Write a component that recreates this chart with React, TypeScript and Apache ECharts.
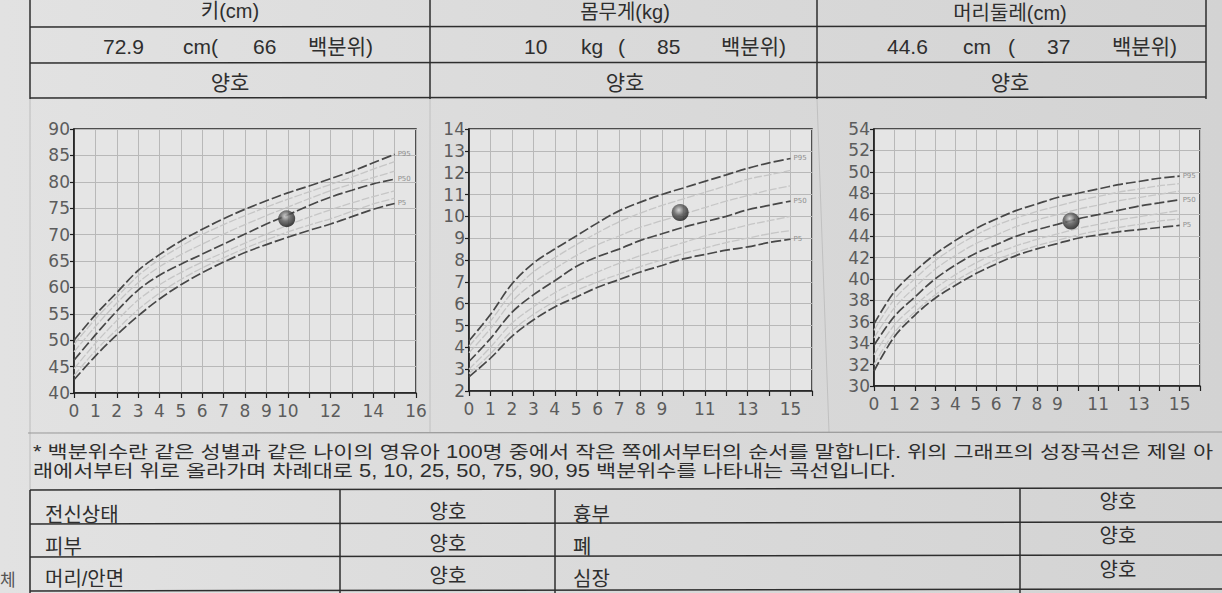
import React, { useEffect, useRef } from "react";
import * as echarts from "echarts";

// ---------- data ----------
const ages = [0, 1, 2, 3, 4, 5, 6, 7, 8, 9, 10, 11, 12, 13, 14, 15];
const percentileNames = ["P5", "P10", "P25", "P50", "P75", "P90", "P95"];

const heightP5 = [42.5, 47, 51, 54.6, 57.8, 60.5, 62.8, 64.8, 66.6, 68.1, 69.5, 70.8, 72, 73.4, 74.8, 75.9];
const heightP10 = [43.3, 48, 52, 55.8, 58.9, 61.5, 63.7, 65.6, 67.4, 69, 70.5, 71.8, 73, 74.4, 75.8, 76.9];
const heightP25 = [44.6, 49.4, 53.7, 57.6, 60.5, 62.8, 64.8, 66.6, 68.4, 70.1, 71.8, 73.3, 74.7, 76, 77.2, 78.3];
const heightP50 = [46.2, 51, 55.5, 59.5, 62.3, 64.4, 66.3, 68.2, 70.1, 72, 73.7, 75.5, 77.1, 78.4, 79.6, 80.5];
const heightP75 = [47.8, 52.6, 57, 60.9, 63.9, 66.2, 68.2, 70.1, 71.9, 73.6, 75.2, 76.8, 78.3, 79.6, 80.8, 82];
const heightP90 = [49.2, 54, 58.2, 62.2, 65.3, 67.8, 70, 71.9, 73.6, 75.2, 76.7, 78.1, 79.5, 80.9, 82.4, 83.8];
const heightP95 = [50, 54.8, 59, 63.2, 66.2, 68.8, 71, 73, 74.8, 76.4, 77.9, 79.2, 80.6, 82, 83.6, 85.2];

const weightP5 = [2.65, 3.5, 4.5, 5.25, 5.85, 6.3, 6.75, 7.1, 7.45, 7.75, 8.05, 8.25, 8.45, 8.6, 8.8, 8.95];
const weightP10 = [2.8, 3.7, 4.75, 5.5, 6.1, 6.6, 7.0, 7.35, 7.7, 8.0, 8.3, 8.55, 8.8, 9.0, 9.2, 9.35];
const weightP25 = [3.0, 4.0, 5.1, 5.85, 6.5, 7.0, 7.45, 7.85, 8.2, 8.5, 8.8, 9.1, 9.35, 9.6, 9.8, 10.0];
const weightP50 = [3.35, 4.4, 5.6, 6.4, 7.05, 7.7, 8.15, 8.5, 8.9, 9.2, 9.5, 9.75, 10.0, 10.3, 10.5, 10.7];
const weightP75 = [3.75, 4.85, 6.1, 6.95, 7.6, 8.2, 8.7, 9.1, 9.5, 9.8, 10.1, 10.4, 10.7, 10.95, 11.2, 11.4];
const weightP90 = [4.05, 5.2, 6.5, 7.45, 8.1, 8.7, 9.25, 9.75, 10.15, 10.5, 10.8, 11.1, 11.4, 11.7, 11.9, 12.1];
const weightP95 = [4.3, 5.5, 6.9, 7.85, 8.5, 9.1, 9.7, 10.25, 10.65, 11.0, 11.3, 11.6, 11.9, 12.2, 12.45, 12.65];

const headP5 = [31.4, 34.6, 36.6, 38.2, 39.4, 40.5, 41.4, 42.2, 42.8, 43.3, 43.8, 44.1, 44.4, 44.6, 44.8, 45.0];
const headP10 = [32.0, 35.0, 36.9, 38.5, 39.8, 40.9, 41.8, 42.5, 43.1, 43.6, 44.1, 44.5, 44.8, 45.1, 45.4, 45.6];
const headP25 = [32.9, 35.7, 37.5, 39.1, 40.4, 41.5, 42.4, 43.1, 43.7, 44.2, 44.7, 45.1, 45.5, 45.8, 46.1, 46.4];
const headP50 = [33.8, 36.5, 38.3, 40.0, 41.3, 42.4, 43.2, 44.0, 44.6, 45.1, 45.6, 46.0, 46.4, 46.8, 47.1, 47.4];
const headP75 = [34.5, 37.3, 39.2, 40.9, 42.2, 43.3, 44.1, 44.9, 45.5, 46.0, 46.5, 46.9, 47.3, 47.6, 47.9, 48.2];
const headP90 = [35.2, 38.1, 40.0, 41.7, 43.0, 44.1, 45.0, 45.7, 46.3, 46.8, 47.3, 47.7, 48.1, 48.4, 48.7, 48.9];
const headP95 = [35.8, 38.8, 40.7, 42.3, 43.6, 44.7, 45.6, 46.4, 47.0, 47.6, 48.0, 48.4, 48.8, 49.1, 49.4, 49.6];

const childHeight = [9.95, 73.0];
const childWeight = [9.85, 10.17];
const childHead = [9.67, 45.4];

const heightXLabels = [0, 1, 2, 3, 4, 5, 6, 7, 8, 9, 10, 12, 14, 16];
const weightXLabels = [0, 1, 2, 3, 4, 5, 6, 7, 8, 9, 11, 13, 15];
const headXLabels = [0, 1, 2, 3, 4, 5, 6, 7, 8, 9, 11, 13, 15];

const headerTitles = ["키(cm)", "몸무게(kg)", "머리둘레(cm)"];
const measureTexts = [
  ["72.9", "cm(", "66", "백분위)"],
  ["10", "kg", "(", "85", "백분위)"],
  ["44.6", "cm", "(", "37", "백분위)"],
];
const statusTexts = ["양호", "양호", "양호"];
const footnoteLines = [
  "* 백분위수란 같은 성별과 같은 나이의 영유아 100명 중에서 작은 쪽에서부터의 순서를 말합니다. 위의 그래프의 성장곡선은 제일 아",
  "래에서부터 위로 올라가며 차례대로 5, 10, 25, 50, 75, 90, 95 백분위수를 나타내는 곡선입니다.",
];
const examLeft = ["전신상태", "피부", "머리/안면"];
const examLeftResult = ["양호", "양호", "양호"];
const examRight = ["흉부", "폐", "심장"];
const examRightResult = ["양호", "양호", "양호"];

// ---------- layout ----------
const grids = [
  { left: 74, top: 129, width: 342, height: 264 },
  { left: 469, top: 129, width: 343, height: 262 },
  { left: 874, top: 129, width: 326, height: 257 },
];
const yRanges = [
  { min: 40, max: 90, interval: 5 },
  { min: 2, max: 14, interval: 1 },
  { min: 30, max: 54, interval: 2 },
];
const chartSets = [
  [heightP5, heightP10, heightP25, heightP50, heightP75, heightP90, heightP95],
  [weightP5, weightP10, weightP25, weightP50, weightP75, weightP90, weightP95],
  [headP5, headP10, headP25, headP50, headP75, headP90, headP95],
];
const childPoints = [childHeight, childWeight, childHead];
const xLabelSets = [heightXLabels, weightXLabels, headXLabels];

const AXIS_FONT = "'DejaVu Sans', sans-serif";
const KR_FONT = "'Liberation Sans', 'Noto Sans CJK KR', sans-serif";
const INK = "#2e2e2e";

function buildOption() {
  const xAxis: any[] = [];
  const yAxis: any[] = [];
  const series: any[] = [];

  grids.forEach((g, gi) => {
    const labelSet = new Set(xLabelSets[gi]);
    xAxis.push({
      type: "value",
      gridIndex: gi,
      min: 0,
      max: 16,
      interval: 1,
      axisLine: { show: true, onZero: false, lineStyle: { color: "#1e1e1e", width: 1.6 } },
      axisTick: { show: true, length: 5, lineStyle: { color: "#1e1e1e", width: 1.2 } },
      axisLabel: {
        formatter: (v: number) => (labelSet.has(v) ? String(v) : ""),
        color: "#5c5c5c",
        fontSize: 17,
        fontFamily: AXIS_FONT,
        margin: 9,
        showMinLabel: true,
        showMaxLabel: true,
      },
      splitLine: { show: true, lineStyle: { color: "#b8b8b8", width: 1 } },
    });
    yAxis.push({
      type: "value",
      gridIndex: gi,
      min: yRanges[gi].min,
      max: yRanges[gi].max,
      interval: yRanges[gi].interval,
      axisLine: { show: true, onZero: false, lineStyle: { color: "#1e1e1e", width: 1.6 } },
      axisTick: { show: true, length: 4, lineStyle: { color: "#1e1e1e", width: 1.2 } },
      axisLabel: {
        color: "#5c5c5c",
        fontSize: 17,
        fontFamily: AXIS_FONT,
        margin: 4,
        showMinLabel: true,
        showMaxLabel: true,
      },
      splitLine: { show: true, lineStyle: { color: "#b8b8b8", width: 1 } },
    });

    chartSets[gi].forEach((arr, pi) => {
      const name = percentileNames[pi];
      const dark = name === "P5" || name === "P50" || name === "P95";
      const col = dark ? "#474747" : "#c6c6c6";
      series.push({
        type: "line",
        name: `${gi}-${name}`,
        xAxisIndex: gi,
        yAxisIndex: gi,
        data: ages.map((a, i) => [a, arr[i]]),
        smooth: 0.35,
        showSymbol: false,
        symbol: "none",
        z: dark ? 4 : 3,
        color: col,
        itemStyle: { color: col },
        lineStyle: dark
          ? { color: col, width: 1.7, type: [10, 3] }
          : { color: col, width: 1.3, type: [8, 2] },
        endLabel: dark
          ? {
              show: true,
              formatter: name,
              fontSize: 7,
              color: "#8f8f8f",
              textBorderWidth: 0,
              distance: 3,
              fontFamily: AXIS_FONT,
            }
          : { show: false },
      });
    });

    series.push({
      type: "scatter",
      xAxisIndex: gi,
      yAxisIndex: gi,
      data: [childPoints[gi]],
      symbol: "circle",
      symbolSize: 17,
      z: 10,
      itemStyle: {
        color: new echarts.graphic.RadialGradient(0.42, 0.35, 0.65, [
          { offset: 0, color: "#d0d0d0" },
          { offset: 0.45, color: "#5a5a5a" },
          { offset: 1, color: "#151515" },
        ]),
      },
    });
  });

  // ---------- graphic: tables & texts ----------
  const els: any[] = [];
  const line = (x1: number, y1: number, x2: number, y2: number, w = 1.5, c = INK) =>
    els.push({ type: "line", silent: true, shape: { x1, y1, x2, y2 }, style: { stroke: c, lineWidth: w } });
  const text = (t: string, x: number, y: number, size: number, align = "left", color = INK, sx = 1) =>
    els.push({
      type: "text",
      silent: true,
      x,
      y,
      scaleX: sx,
      style: { text: t, fontSize: size, fontFamily: KR_FONT, fill: color, align, verticalAlign: "middle" },
    });

  // top table
  line(30, 0, 30, 99);
  line(430, 0, 430, 99);
  line(817, 0, 817, 99);
  line(1206, 0, 1206, 99);
  line(30, 27, 1206, 26);
  line(30, 63, 1206, 62);
  line(30, 98, 1206, 97);
  // faint separators below table
  line(30, 99, 30, 593, 1, "#bcbcbc");
  line(430, 99, 430, 432, 1, "#c0c0c0");
  line(817, 99, 829, 432, 1, "#c0c0c0");

  const colCenters = [230, 625, 1010];
  const headerY = [11, 12, 13];
  headerTitles.forEach((t, i) => text(t, colCenters[i], headerY[i], 20, "center"));
  const measureX = [
    [103, 183, 253, 308],
    [524, 581, 618, 657, 721],
    [887, 963, 1008, 1047, 1112],
  ];
  measureTexts.forEach((parts, i) => parts.forEach((p, j) => text(p, measureX[i][j], 46, 21)));
  statusTexts.forEach((t, i) => text(t, colCenters[i], 82, 21, "center"));

  // footnote box
  line(28, 433, 1222, 432, 1.2, "#9a9a9a");
  text(footnoteLines[0], 33, 452, 17.5, "left", INK, 1.25);
  text(footnoteLines[1], 33, 471, 17.5, "left", INK, 1.25);

  // bottom table
  line(30, 490, 1222, 488);
  line(30, 524, 1222, 522);
  line(30, 557, 1222, 555);
  line(30, 591, 1222, 589);
  line(30, 490, 30, 593);
  line(340, 490, 340, 593);
  line(555, 490, 555, 593);
  line(1020, 488, 1020, 593);
  const rowY = [515, 547, 579];
  const rowYRight = [502, 536, 570];
  examLeft.forEach((t, i) => text(t, 45, rowY[i], 20));
  examLeftResult.forEach((t, i) => text(t, 448, rowY[i] - 3, 20, "center"));
  examRight.forEach((t, i) => text(t, 573, rowY[i], 20));
  examRightResult.forEach((t, i) => text(t, 1118, rowYRight[i], 20, "center"));
  text("체", 0, 580, 17, "left", "#555");

  return {
    animation: false,
    backgroundColor: new echarts.graphic.LinearGradient(0, 0, 1, 0, [
      { offset: 0, color: "#e2e2e2" },
      { offset: 0.5, color: "#dadada" },
      { offset: 1, color: "#d3d3d3" },
    ]),
    grid: grids.map((g) => ({
      ...g,
      show: true,
      backgroundColor: "#e5e5e5",
      borderColor: "#1e1e1e",
      borderWidth: 1.5,
      containLabel: false,
    })),
    xAxis,
    yAxis,
    series,
    graphic: { elements: els },
  };
}

export default function App() {
  const ref = useRef<HTMLDivElement>(null);
  useEffect(() => {
    document.body.style.margin = "0";
    const chart = echarts.init(ref.current!, null, { renderer: "svg" });
    chart.setOption(buildOption() as any);
    return () => chart.dispose();
  }, []);
  return (
    <div
      ref={ref}
      style={{ position: "absolute", left: 0, top: 0, width: 1222, height: 593 }}
    />
  );
}
